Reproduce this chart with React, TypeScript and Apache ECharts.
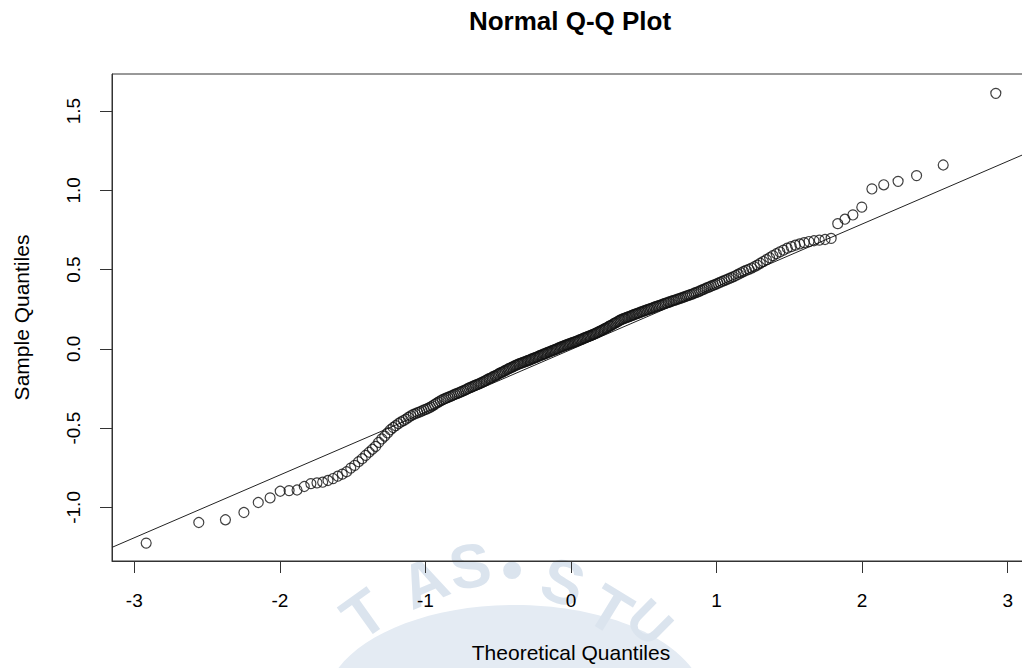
import React, { useEffect, useRef } from "react";
import * as echarts from "echarts";

// Sample quantiles (sorted)
const sampleQuantiles: number[] = [
  -1.225, -1.095, -1.078, -1.032, -0.969, -0.94, -0.898, -0.894, -0.89, -0.868,
  -0.85, -0.845, -0.841, -0.83, -0.818, -0.803, -0.79, -0.775, -0.752, -0.735,
  -0.712, -0.693, -0.672, -0.652, -0.633, -0.615, -0.59, -0.568, -0.55, -0.53,
  -0.51, -0.496, -0.484, -0.471, -0.461, -0.452, -0.443, -0.432, -0.422, -0.414,
  -0.409, -0.402, -0.397, -0.391, -0.385, -0.38, -0.374, -0.367, -0.359, -0.351,
  -0.343, -0.336, -0.328, -0.321, -0.316, -0.311, -0.306, -0.301, -0.296, -0.291,
  -0.286, -0.282, -0.277, -0.273, -0.268, -0.263, -0.258, -0.253, -0.248, -0.243,
  -0.239, -0.234, -0.23, -0.226, -0.222, -0.217, -0.213, -0.208, -0.203, -0.198,
  -0.193, -0.188, -0.184, -0.179, -0.174, -0.17, -0.165, -0.16, -0.155, -0.15,
  -0.146, -0.141, -0.137, -0.132, -0.127, -0.123, -0.119, -0.115, -0.11, -0.105,
  -0.102, -0.098, -0.095, -0.091, -0.088, -0.085, -0.082, -0.079, -0.075, -0.072,
  -0.069, -0.065, -0.062, -0.058, -0.055, -0.052, -0.048, -0.045, -0.041, -0.038,
  -0.034, -0.031, -0.028, -0.024, -0.021, -0.018, -0.015, -0.011, -0.008, -0.005,
  -0.001, 0.002, 0.006, 0.009, 0.013, 0.016, 0.019, 0.022, 0.025, 0.028,
  0.031, 0.034, 0.037, 0.04, 0.043, 0.046, 0.049, 0.052, 0.056, 0.059,
  0.062, 0.066, 0.069, 0.073, 0.076, 0.079, 0.082, 0.085, 0.089, 0.092,
  0.096, 0.1, 0.104, 0.108, 0.112, 0.116, 0.12, 0.125, 0.129, 0.133,
  0.138, 0.143, 0.147, 0.152, 0.157, 0.162, 0.166, 0.171, 0.176, 0.181,
  0.185, 0.189, 0.192, 0.195, 0.199, 0.202, 0.205, 0.209, 0.212, 0.216,
  0.219, 0.222, 0.226, 0.229, 0.233, 0.236, 0.239, 0.242, 0.246, 0.249,
  0.252, 0.256, 0.259, 0.263, 0.266, 0.27, 0.273, 0.276, 0.28, 0.283,
  0.287, 0.29, 0.294, 0.297, 0.301, 0.304, 0.308, 0.311, 0.315, 0.318,
  0.322, 0.326, 0.33, 0.334, 0.338, 0.342, 0.346, 0.351, 0.355, 0.36,
  0.365, 0.37, 0.375, 0.381, 0.386, 0.391, 0.397, 0.402, 0.407, 0.413,
  0.419, 0.425, 0.431, 0.437, 0.443, 0.449, 0.456, 0.463, 0.471, 0.48,
  0.488, 0.495, 0.502, 0.51, 0.518, 0.528, 0.54, 0.551, 0.563, 0.575,
  0.588, 0.6, 0.612, 0.623, 0.635, 0.645, 0.654, 0.662, 0.67, 0.677,
  0.682, 0.686, 0.69, 0.697, 0.79, 0.818, 0.845, 0.894, 1.009, 1.035,
  1.057, 1.093, 1.16, 1.612,
];

// Reference (qqline) end points
const refLine: [number, number][] = [
  [-3.153, -1.252],
  [3.153, 1.244],
];

const xTicks = [-3, -2, -1, 0, 1, 2, 3];
const yTicks = [-1.0, -0.5, 0.0, 0.5, 1.0, 1.5];
const xRange = [-3.153, 3.153];
const yRange = [-1.338, 1.734];

const titleText = "Normal Q-Q Plot";
const xName = "Theoretical Quantiles";
const yName = "Sample Quantiles";

// Standard normal quantile (Acklam) for the theoretical quantiles of qqnorm
function qnorm(p: number): number {
  const a = [-3.969683028665376e1, 2.209460984245205e2, -2.759285104469687e2, 1.38357751867269e2, -3.066479806614716e1, 2.506628277459239];
  const b = [-5.447609879822406e1, 1.615858368580409e2, -1.556989798598866e2, 6.680131188771972e1, -1.328068155288572e1];
  const c = [-7.784894002430293e-3, -3.223964580411365e-1, -2.400758277161838, -2.549732539343734, 4.374664141464968, 2.938163982698783];
  const d = [7.784695709041462e-3, 3.224671290700398e-1, 2.445134137142996, 3.754408661907416];
  const plow = 0.02425;
  if (p < plow) {
    const q = Math.sqrt(-2 * Math.log(p));
    return (((((c[0] * q + c[1]) * q + c[2]) * q + c[3]) * q + c[4]) * q + c[5]) /
      ((((d[0] * q + d[1]) * q + d[2]) * q + d[3]) * q + 1);
  }
  if (p <= 1 - plow) {
    const q = p - 0.5;
    const r = q * q;
    return ((((((a[0] * r + a[1]) * r + a[2]) * r + a[3]) * r + a[4]) * r + a[5]) * q) /
      (((((b[0] * r + b[1]) * r + b[2]) * r + b[3]) * r + b[4]) * r + 1);
  }
  const q = Math.sqrt(-2 * Math.log(1 - p));
  return -(((((c[0] * q + c[1]) * q + c[2]) * q + c[3]) * q + c[4]) * q + c[5]) /
    ((((d[0] * q + d[1]) * q + d[2]) * q + d[3]) * q + 1);
}

const FONT = "'Liberation Sans', Arial, Helvetica, sans-serif";
const WM = "#dbe4ee";

export default function App() {
  const ref = useRef<HTMLDivElement>(null);
  useEffect(() => {
    if (!ref.current) return;
    const chart = echarts.init(ref.current, undefined, { renderer: "svg" });
    const n = sampleQuantiles.length;
    const points = sampleQuantiles.map((v, i) => [qnorm((i + 1 - 0.5) / n), v]);

    const wmLetters = [
      { t: "T", x: 364, y: 614, r: 0.62, s: 62 },
      { t: "A", x: 424, y: 582, r: 0.4, s: 62 },
      { t: "S", x: 470, y: 566, r: 0.16, s: 62 },
      { t: "\u2022", x: 512, y: 568, r: 0, s: 62 },
      { t: "S", x: 563, y: 582, r: -0.3, s: 62 },
      { t: "T", x: 610, y: 610, r: -0.55, s: 62 },
      { t: "U", x: 650, y: 622, r: -0.78, s: 54 },
    ];

    chart.setOption({
      animation: false,
      backgroundColor: "#ffffff",
      textStyle: { fontFamily: FONT },
      graphic: [
        {
          type: "ellipse",
          z: -10,
          silent: true,
          shape: { cx: 515, cy: 705, rx: 190, ry: 100 },
          style: { fill: "#e4ebf3" },
        },
        ...wmLetters.map((l) => ({
          type: "text",
          z: -10,
          silent: true,
          x: l.x,
          y: l.y,
          rotation: l.r,
          style: {
            text: l.t,
            fontSize: l.s,
            fontWeight: "bold",
            fontFamily: FONT,
            fill: WM,
            align: "center",
            verticalAlign: "middle",
          },
        })),
        {
          type: "text",
          x: 570,
          y: 21,
          style: {
            text: titleText,
            fontSize: 26,
            fontWeight: "bold",
            fontFamily: FONT,
            fill: "#000",
            align: "center",
            verticalAlign: "middle",
          },
        },
      ],
      grid: {
        left: 112,
        top: 74,
        right: 10,
        bottom: 106,
        show: true,
        borderColor: "#333",
        borderWidth: 1,
        backgroundColor: "transparent",
      },
      xAxis: {
        type: "value",
        min: xRange[0],
        max: xRange[1],
        name: xName,
        nameLocation: "middle",
        nameGap: 81,
        nameTextStyle: { fontSize: 21, color: "#000", fontFamily: FONT },
        axisLine: { show: true, onZero: false, lineStyle: { color: "#333", width: 1 } },
        axisTick: { show: true, length: 12, customValues: xTicks, lineStyle: { color: "#333" } },
        axisLabel: {
          customValues: xTicks,
          margin: 30,
          fontSize: 19,
          color: "#000",
          fontFamily: FONT,
          formatter: (v: number) => String(v),
        },
        splitLine: { show: false },
      },
      yAxis: {
        type: "value",
        min: yRange[0],
        max: yRange[1],
        name: yName,
        nameLocation: "middle",
        nameGap: 80,
        nameRotate: 90,
        nameTextStyle: { fontSize: 21, color: "#000", fontFamily: FONT },
        axisLine: { show: true, onZero: false, lineStyle: { color: "#333", width: 1 } },
        axisTick: { show: true, length: 12, customValues: yTicks, lineStyle: { color: "#333" } },
        axisLabel: {
          customValues: yTicks,
          rotate: 90,
          margin: 29,
          fontSize: 19,
          color: "#000",
          fontFamily: FONT,
          formatter: (v: number) => v.toFixed(1),
        },
        splitLine: { show: false },
      },
      series: [
        {
          type: "line",
          data: refLine,
          symbol: "none",
          lineStyle: { color: "#222", width: 1 },
          z: 3,
          silent: true,
        },
        {
          type: "scatter",
          data: points,
          symbol: "circle",
          symbolSize: 10,
          itemStyle: { color: "rgba(0,0,0,0)", borderColor: "#111", borderWidth: 1.2 },
          z: 4,
          silent: true,
        },
      ],
    });
    return () => chart.dispose();
  }, []);

  return (
    <div
      style={{
        position: "fixed",
        left: 0,
        top: 0,
        width: 1022,
        height: 668,
        overflow: "hidden",
        background: "#fff",
      }}
    >
      <div ref={ref} style={{ width: 1040, height: 668 }} />
    </div>
  );
}
